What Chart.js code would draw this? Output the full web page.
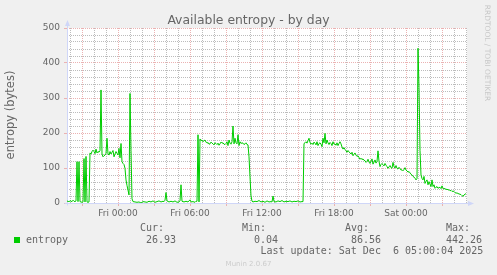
<!DOCTYPE html>
<html>
<head>
<meta charset="utf-8">
<title>Available entropy - by day</title>
<script src="https://cdn.jsdelivr.net/npm/chart.js@4.4.1/dist/chart.umd.min.js"></script>
<style>
  body { margin: 0; background: #f0f0f0; }
  #wrap { position: relative; width: 497px; height: 275px; overflow: hidden; }
  #c { position: absolute; left: 0; top: 0; }
  .t { position: absolute; white-space: pre; color: #666; }
  .s { font-family: "DejaVu Sans", sans-serif; }
  .m { font-family: "DejaVu Sans Mono", monospace; font-size: 10px; line-height: 12px; }
</style>
</head>
<body>
<div id="wrap">
  <canvas id="c" width="497" height="275"></canvas>
  <div class="t s" style="left:0;top:12px;width:497px;text-align:center;font-size:12.4px;line-height:15px;">Available entropy - by day</div>
  <div class="t s" style="left:-50px;top:108px;width:120px;text-align:center;font-size:11.5px;line-height:14px;transform:rotate(-90deg);">entropy (bytes)</div>
  <div class="t s" style="left:437px;top:48px;width:100px;text-align:center;font-size:7.5px;line-height:10px;color:#c8c8c8;transform:rotate(90deg);">RRDTOOL / TOBI OETIKER</div>
  <div id="legend"></div>
  <div class="t s" style="left:0;top:259px;width:497px;text-align:center;font-size:7px;line-height:10px;color:#cccccc;">Munin 2.0.67</div>
</div>
<script>
// minutes relative to Fri 00:00, one reading per sample
const times = [
  -255, -250, -245, -240, -235, -230, -225, -220, -215, -210, -205, -200, -195, -190, -185, -180, -175, -170, -165, -160,
  -155, -150, -145, -140, -135, -130, -125, -120, -115, -110, -105, -100, -95, -90, -85, -80, -75, -70, -65, -60,
  -55, -50, -45, -40, -35, -30, -25, -20, -15, -10, -5, 0, 5, 10, 15, 20, 25, 30, 35, 40,
  45, 50, 55, 60, 65, 70, 75, 85, 95, 105, 115, 125, 135, 145, 155, 165, 175, 185, 195, 205,
  215, 225, 230, 235, 240, 245, 255, 265, 275, 285, 295, 305, 310, 315, 320, 330, 340, 350, 360, 365,
  375, 385, 390, 395, 400, 405, 410, 415, 420, 425, 430, 435, 440, 445, 450, 455, 460, 465, 470, 475,
  480, 485, 490, 495, 500, 505, 510, 515, 520, 525, 530, 535, 540, 545, 550, 555, 560, 565, 570, 575,
  580, 585, 590, 595, 600, 605, 610, 615, 620, 625, 630, 635, 640, 645, 650, 655, 660, 665, 670, 675,
  685, 695, 705, 715, 725, 735, 745, 755, 765, 770, 775, 780, 790, 800, 810, 820, 830, 840, 850, 860,
  870, 880, 890, 900, 910, 920, 925, 930, 935, 940, 945, 950, 955, 960, 965, 970, 975, 980, 985, 990,
  995, 1000, 1005, 1010, 1015, 1020, 1025, 1030, 1035, 1040, 1045, 1050, 1055, 1060, 1065, 1070, 1075, 1080, 1085, 1090,
  1095, 1100, 1105, 1110, 1115, 1120, 1125, 1130, 1135, 1140, 1145, 1150, 1155, 1160, 1165, 1170, 1175, 1180, 1185, 1190,
  1195, 1200, 1205, 1210, 1215, 1220, 1225, 1230, 1235, 1240, 1245, 1250, 1255, 1260, 1265, 1270, 1275, 1280, 1285, 1290,
  1295, 1300, 1305, 1310, 1315, 1320, 1325, 1330, 1335, 1340, 1345, 1350, 1355, 1360, 1365, 1370, 1375, 1380, 1385, 1390,
  1395, 1400, 1405, 1410, 1415, 1420, 1425, 1430, 1435, 1440, 1445, 1450, 1455, 1460, 1465, 1470, 1475, 1480, 1485, 1490,
  1495, 1500, 1505, 1510, 1515, 1520, 1525, 1530, 1535, 1540, 1545, 1550, 1555, 1560, 1565, 1570, 1575, 1580, 1585, 1590,
  1595, 1600, 1605, 1610, 1615, 1620, 1625, 1630, 1635, 1640, 1645, 1650, 1655, 1660, 1665, 1670, 1675, 1680, 1685, 1690,
  1695, 1700, 1705, 1710, 1715, 1720, 1725, 1730, 1735, 1740
];
// entropy in bytes
const entropy = [
  4, 6, 3, 7, 5, 4, 8, 5, 4, 6, 118, 4, 118, 4, 3, 2, 3, 127, 3, 133,
  3, 2, 3, 143, 140, 147, 151, 147, 141, 154, 143, 147, 145, 150, 323, 140, 132, 135, 137, 142,
  185, 140, 137, 147, 140, 145, 150, 132, 140, 147, 142, 137, 156, 129, 170, 118, 113, 110, 99, 66,
  50, 37, 23, 313, 150, 12, 4, 3, 2, 3, 0.04, 4, 3, 2, 5, 3, 6, 2, 4, 6,
  3, 5, 4, 8, 30, 6, 3, 5, 3, 6, 2, 3, 6, 52, 5, 3, 5, 3, 9, 3,
  4, 2, 5, 5, 195, 3, 183, 178, 180, 175, 178, 180, 174, 171, 173, 168, 169, 174, 171, 169,
  166, 172, 170, 167, 171, 165, 169, 174, 171, 172, 168, 167, 170, 175, 164, 180, 171, 168, 175, 220,
  169, 185, 172, 169, 195, 164, 175, 170, 172, 171, 167, 169, 172, 167, 166, 132, 75, 20, 5, 3,
  5, 4, 7, 3, 5, 2, 6, 3, 4, 3, 20, 4, 3, 6, 4, 7, 3, 5, 4, 6,
  3, 5, 4, 6, 3, 4, 4, 170, 172, 175, 171, 178, 185, 173, 168, 171, 167, 174, 171, 166,
  175, 164, 170, 172, 168, 161, 185, 172, 199, 169, 180, 172, 167, 173, 170, 164, 175, 168, 169, 165,
  172, 164, 170, 175, 169, 160, 154, 158, 153, 149, 145, 150, 146, 143, 140, 145, 135, 139, 143, 137,
  133, 135, 130, 125, 128, 124, 126, 122, 121, 116, 119, 125, 117, 113, 120, 126, 111, 117, 123, 114,
  119, 149, 119, 104, 110, 113, 109, 106, 113, 108, 104, 99, 103, 107, 101, 99, 116, 104, 100, 107,
  99, 97, 102, 99, 94, 95, 92, 96, 101, 94, 92, 88, 90, 86, 82, 80, 76, 74, 71, 66,
  70, 442, 330, 150, 80, 70, 66, 76, 56, 62, 66, 52, 61, 54, 47, 66, 47, 52, 42, 45,
  47, 42, 44, 45, 41, 49, 42, 40, 42, 38, 40, 37, 38, 35, 36, 33, 34, 33, 30, 28,
  29, 27, 26, 25, 24, 21, 19, 23, 25, 26.93
];
const tickMinutes = [0, 360, 720, 1080, 1440];
const tickLabels = ['Fri 00:00', 'Fri 06:00', 'Fri 12:00', 'Fri 18:00', 'Sat 00:00'];
const seriesName = 'entropy';
const statNames = ['Cur:', 'Min:', 'Avg:', 'Max:'];
const statValues = ['26.93', '0.04', '86.56', '442.26'];
const lastUpdate = 'Last update: Sat Dec  6 05:00:04 2025';

const MAJOR = '#ebb2b2';
const MINOR = '#bcbcbc';
const AXIS = '#cfd6f8';
const GREEN = '#00cc00';

// legend table below the plot
const legend = document.getElementById('legend');
function addText(txt, left, top) {
  const d = document.createElement('div');
  d.className = 't m';
  d.style.left = left + 'px';
  d.style.top = top + 'px';
  d.textContent = txt;
  legend.appendChild(d);
}
const box = document.createElement('div');
box.style.cssText = 'position:absolute;left:14px;top:237px;width:6px;height:6px;background:' + GREEN;
legend.appendChild(box);
addText(seriesName, 26, 233.5);
const nameX = [140, 242, 345, 446];
const valX = [146, 254, 351, 446];
statNames.forEach((n, i) => {
  addText(n, nameX[i], 222);
  addText(statValues[i], valX[i], 233.5);
});
addText(lastUpdate, 260.5, 245);

const frame = {
  id: 'frame',
  beforeDraw(chart) {
    const {ctx, chartArea: a} = chart;
    ctx.save();
    ctx.fillStyle = '#ffffff';
    ctx.fillRect(a.left, a.top, a.right - a.left, a.bottom - a.top);
    ctx.restore();
  },
  beforeDatasetsDraw(chart) {
    const {ctx, chartArea: a} = chart;
    const x0 = a.left + 0.5, y0 = a.bottom + 0.5;
    ctx.save();
    ctx.strokeStyle = AXIS;
    ctx.fillStyle = AXIS;
    ctx.lineWidth = 1;
    ctx.beginPath();
    ctx.moveTo(x0, a.top - 6);
    ctx.lineTo(x0, y0 + 2);
    ctx.moveTo(x0 - 3, y0);
    ctx.lineTo(a.right + 6, y0);
    ctx.stroke();
    // arrow heads
    ctx.beginPath();
    ctx.moveTo(x0, a.top - 8);
    ctx.lineTo(x0 - 2.5, a.top - 2);
    ctx.lineTo(x0 + 2.5, a.top - 2);
    ctx.closePath();
    ctx.fill();
    ctx.beginPath();
    ctx.moveTo(a.right + 7, y0);
    ctx.lineTo(a.right + 1, y0 - 2.5);
    ctx.lineTo(a.right + 1, y0 + 2.5);
    ctx.closePath();
    ctx.fill();
    ctx.restore();
  }
};

new Chart(document.getElementById('c'), {
  type: 'line',
  data: {
    datasets: [{
      label: seriesName,
      data: times.map((t, i) => ({x: t, y: entropy[i]})),
      borderColor: GREEN,
      borderWidth: 1,
      pointRadius: 0,
      tension: 0,
      fill: false
    }]
  },
  options: {
    responsive: false,
    animation: false,
    events: [],
    layout: {padding: {left: 0, right: 30, top: 28, bottom: 52}},
    plugins: {legend: {display: false}, tooltip: {enabled: false}},
    scales: {
      x: {
        type: 'linear',
        min: -255,
        max: 1745,
        afterFit: s => { s.height = 20; },
        border: {display: false, dash: [1, 1]},
        grid: {
          color: c => (c.tick && c.tick.value % 180 === 0) ? MAJOR : MINOR,
          tickColor: c => (c.tick && c.tick.value % 180 === 0) ? MAJOR : 'rgba(0,0,0,0)',
          tickLength: 3
        },
        ticks: {
          stepSize: 60,
          includeBounds: false,
          autoSkip: false,
          maxRotation: 0,
          minRotation: 0,
          padding: 2,
          color: '#666',
          font: {family: 'DejaVu Sans', size: 9},
          callback: v => {
            const k = tickMinutes.indexOf(v);
            return k < 0 ? '' : tickLabels[k];
          }
        }
      },
      y: {
        min: 0,
        max: 500,
        afterFit: s => { s.width = 67; },
        border: {display: false, dash: [1, 1]},
        grid: {
          color: c => (c.tick && c.tick.value % 100 === 0) ? MAJOR : MINOR,
          tickColor: c => (c.tick && c.tick.value % 100 === 0) ? MAJOR : 'rgba(0,0,0,0)',
          tickLength: 3
        },
        ticks: {
          stepSize: 20,
          autoSkip: false,
          padding: 4,
          color: '#666',
          font: {family: 'DejaVu Sans', size: 9},
          callback: v => v % 100 === 0 ? v : ''
        }
      }
    }
  },
  plugins: [frame]
});
</script>
</body>
</html>
